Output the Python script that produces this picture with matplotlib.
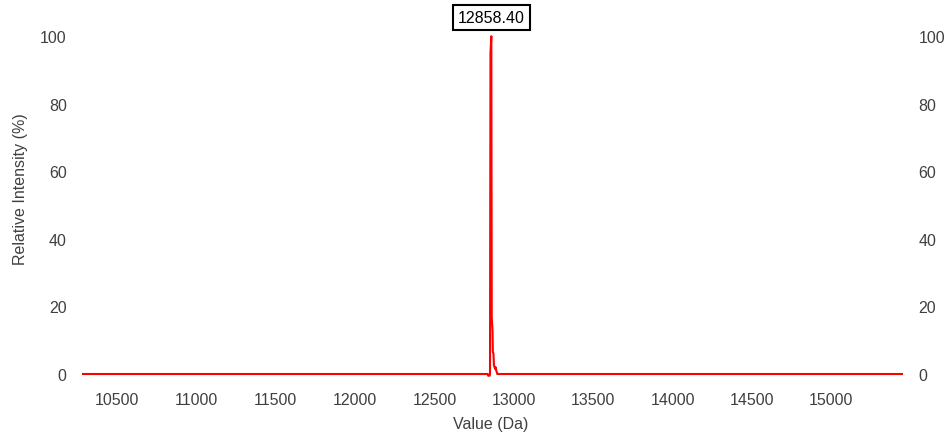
import matplotlib
matplotlib.use("Agg")
import matplotlib.pyplot as plt

# deconvoluted mass spectrum
masses = [10280, 12836, 12838, 12848, 12850, 12853, 12858.4, 12861, 12863, 12866,
          12868, 12872, 12875, 12879, 12882, 12886, 12889, 12893, 12896, 15452]
intensity = [0, 0, -0.5, -0.5, 0, 95, 100, 17, 15, 13,
             6.5, 6, 2.5, 2, 1.5, 2, 1, 0.6, 0, 0]

peak_mass = 12858.4
peak_label = "12858.40"
x_ticks = [10500, 11000, 11500, 12000, 12500, 13000, 13500, 14000, 14500, 15000]
y_ticks = [0, 20, 40, 60, 80, 100]

plt.rcParams['font.family'] = ['Liberation Sans', 'DejaVu Sans']
text_col = '#404040'

fig = plt.figure(figsize=(9.47, 4.35), dpi=100)
ax = fig.add_axes([0.0866, 0.1224, 0.867, 0.8075])

ax.plot(masses, intensity, color='#ff0000', lw=1.5)

ax.set_xlim(masses[0], masses[-1])
ax.set_ylim(-2, 102)
ax.set_xticks(x_ticks)
ax.set_yticks(y_ticks)
for s in ax.spines.values():
    s.set_visible(False)
ax.tick_params(axis='both', length=0, labelsize=11.5, labelcolor=text_col)
ax.tick_params(axis='y', pad=11, labelright=True)
ax.tick_params(axis='x', pad=8)

# label box over the main peak
ax.annotate(peak_label, xy=(peak_mass, 100), xytext=(0, 13.5), textcoords='offset points',
            ha='center', va='center', fontsize=11.5, color='black',
            bbox=dict(boxstyle='square,pad=0.3', fc='white', ec='black', lw=1.5),
            annotation_clip=False)

fig.text(20 / 947, 1 - 189 / 435, "Relative Intensity (%)", rotation=90,
         ha='center', va='center', fontsize=11.5, color=text_col)
fig.text(491 / 947, 1 - 425 / 435, "Value (Da)", ha='center', va='center',
         fontsize=11.5, color=text_col)

fig.savefig("out.png", dpi=100)
